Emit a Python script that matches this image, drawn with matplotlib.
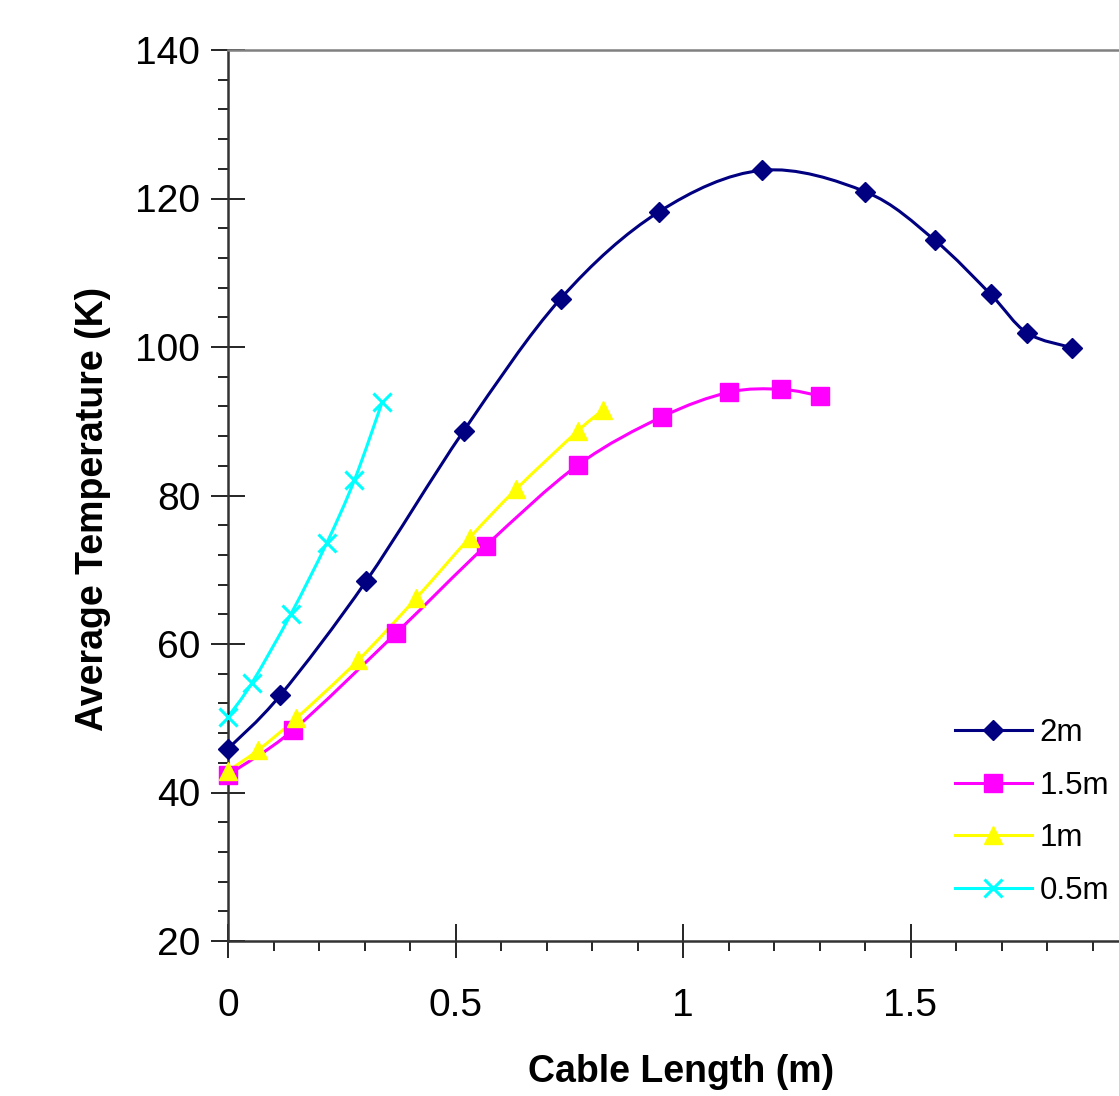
import matplotlib
matplotlib.use("Agg")
import matplotlib.pyplot as plt
import matplotlib.ticker as mticker
from matplotlib.lines import Line2D
from matplotlib.path import Path
from matplotlib.patches import PathPatch

plt.rcParams["font.family"] = ["Liberation Sans", "DejaVu Sans"]

# cable 2m
x_2m = [0.0, 0.115, 0.304, 0.518, 0.731, 0.947, 1.174, 1.401, 1.553, 1.676, 1.756, 1.855]
t_2m = [45.9, 53.1, 68.5, 88.7, 106.5, 118.2, 123.8, 120.9, 114.4, 107.1, 101.9, 99.9]

# cable 1.5m
x_15m = [0.0, 0.143, 0.370, 0.566, 0.769, 0.954, 1.101, 1.216, 1.302]
t_15m = [42.4, 48.4, 61.5, 73.2, 84.1, 90.6, 93.9, 94.3, 93.4]

# cable 1m
x_1m = [0.0, 0.066, 0.150, 0.286, 0.414, 0.531, 0.634, 0.769, 0.824]
t_1m = [42.9, 45.7, 50.0, 57.8, 66.2, 74.3, 80.9, 88.7, 91.5]

# cable 0.5m
x_05m = [0.0, 0.052, 0.138, 0.217, 0.278, 0.339]
t_05m = [50.2, 54.7, 64.0, 73.6, 82.1, 92.6]

labels = ["2m", "1.5m", "1m", "0.5m"]
colors = ["#000080", "#FF00FF", "#FFFF00", "#00FFFF"]


def smooth_path(xs, ys):
    # Excel-style smoothed line: cubic bezier through the data points
    pts = list(zip(xs, ys))
    verts = [pts[0]]
    codes = [Path.MOVETO]
    n = len(pts)
    for i in range(n - 1):
        p0 = pts[i - 1] if i > 0 else pts[i]
        p1, p2 = pts[i], pts[i + 1]
        p3 = pts[i + 2] if i + 2 < n else pts[i + 1]
        c1 = (p1[0] + (p2[0] - p0[0]) / 6, p1[1] + (p2[1] - p0[1]) / 6)
        c2 = (p2[0] - (p3[0] - p1[0]) / 6, p2[1] - (p3[1] - p1[1]) / 6)
        verts += [c1, c2, p2]
        codes += [Path.CURVE4] * 3
    return Path(verts, codes)


W, H = 1119, 1096
fig = plt.figure(figsize=(W / 100, H / 100), dpi=100)
# plot area runs past the right edge of the picture (x = 2 is cropped off)
ax = fig.add_axes([228 / W, (H - 941) / H, 910 / W, 891 / H])

styles = [
    dict(marker="D", ms=10.5),
    dict(marker="s", ms=13.5),
    dict(marker="^", ms=13),
    dict(marker="x", ms=13, mew=2.2),
]
series = [(x_2m, t_2m), (x_15m, t_15m), (x_1m, t_1m), (x_05m, t_05m)]

handles = []
for (xs, ys), col, st, lab in zip(series, colors, styles, labels):
    ax.add_patch(PathPatch(smooth_path(xs, ys), facecolor="none", edgecolor=col,
                           lw=2.2, clip_on=False, zorder=2))
    ax.plot(xs, ys, ls="none", color=col, clip_on=False, zorder=3, **st)
    handles.append(Line2D([], [], color=col, lw=2.2, **st))

ax.set_xlim(0, 2)
ax.set_ylim(20, 140)
ax.xaxis.set_major_locator(mticker.MultipleLocator(0.5))
ax.xaxis.set_minor_locator(mticker.MultipleLocator(0.1))
ax.yaxis.set_major_locator(mticker.MultipleLocator(20))
ax.yaxis.set_minor_locator(mticker.MultipleLocator(4))
ax.xaxis.set_major_formatter(
    mticker.FuncFormatter(lambda v, p: f"{v:g}" if v < 1.9 else ""))

ax.tick_params(which="major", direction="inout", length=24, width=1.2, labelsize=28)
ax.tick_params(which="minor", direction="out", length=7, width=1.2)
ax.tick_params(axis="x", which="major", pad=22)
ax.tick_params(axis="y", which="major", pad=8)
ax.tick_params(top=False, right=False)

for side in ["left", "bottom"]:
    ax.spines[side].set_linewidth(1.8)
    ax.spines[side].set_color("#333333")
ax.spines["top"].set_color("#808080")
ax.spines["top"].set_linewidth(1.8)
ax.spines["right"].set_color("#808080")

ax.set_xlabel("Cable Length (m)", fontsize=27, fontweight="bold")
ax.set_ylabel("Average Temperature (K)", fontsize=27, fontweight="bold")
ax.xaxis.label.set_va("center")
ax.yaxis.label.set_va("center")
ax.xaxis.set_label_coords((681 - 228) / 910, (941 - 1072) / 891)
ax.yaxis.set_label_coords((93 - 228) / 910, (941 - 509) / 891)

ax.legend(handles, labels, loc="center left", bbox_to_anchor=(955 / W, (H - 812) / H),
          bbox_transform=fig.transFigure, frameon=False, fontsize=22.5,
          borderpad=0, borderaxespad=0, handlelength=2.46, handletextpad=0.25,
          labelspacing=0.73)

fig.savefig("out.png", dpi=100)
